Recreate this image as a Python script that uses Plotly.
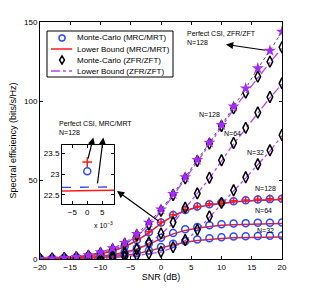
import plotly.graph_objects as go

# ---------------- data ----------------
snr = list(range(-20, 21, 2))

# MRC/MRT (imperfect CSI) Monte-Carlo and lower bound
mrc_mc_128 = [0.3, 0.5, 0.8, 1.3, 2.1, 3.3, 5.2, 8.0, 12.0, 17.0, 23.1, 27.8, 31.0, 33.2, 34.7, 35.8, 36.6, 37.2, 37.6, 37.9, 38.1]
mrc_lb_128 = [0.25, 0.45, 0.75, 1.2, 2.0, 3.1, 5.0, 7.7, 11.6, 16.6, 22.6, 27.3, 30.5, 32.7, 34.2, 35.3, 36.1, 36.7, 37.1, 37.4, 37.6]
mrc_mc_64 = [0.15, 0.25, 0.4, 0.7, 1.1, 1.8, 2.9, 4.5, 6.8, 9.8, 13.5, 16.5, 18.8, 20.3, 21.3, 22.0, 22.4, 22.7, 22.9, 23.0, 23.1]
mrc_lb_64 = [0.13, 0.22, 0.37, 0.65, 1.0, 1.7, 2.7, 4.2, 6.4, 9.3, 12.9, 15.9, 18.1, 19.6, 20.6, 21.3, 21.7, 22.0, 22.2, 22.3, 22.4]
mrc_mc_32 = [0.08, 0.13, 0.2, 0.35, 0.6, 0.95, 1.5, 2.4, 3.7, 5.4, 7.6, 9.6, 11.2, 12.4, 13.2, 13.8, 14.2, 14.4, 14.6, 14.7, 14.8]
mrc_lb_32 = [0.07, 0.12, 0.18, 0.32, 0.55, 0.9, 1.4, 2.2, 3.4, 5.0, 7.1, 9.0, 10.6, 11.7, 12.5, 13.0, 13.4, 13.6, 13.8, 13.9, 14.0]

# MRC/MRT perfect CSI, N=128
mrc_perf_mc_128 = [0.32, 0.53, 0.85, 1.4, 2.2, 3.5, 5.4, 8.3, 12.3, 17.3, 23.3, 28.0, 31.2, 33.4, 34.9, 36.0, 36.8, 37.4, 37.8, 38.1, 38.3]
mrc_perf_lb_128 = [0.26, 0.46, 0.77, 1.25, 2.05, 3.2, 5.1, 7.8, 11.7, 16.7, 22.7, 27.4, 30.6, 32.8, 34.3, 35.4, 36.2, 36.8, 37.2, 37.5, 37.7]

# ZFR/ZFT (imperfect CSI) Monte-Carlo and lower bound
zf_mc_128 = [0.15, 0.3, 0.6, 1.1, 2.0, 3.6, 6.0, 9.5, 15.0, 22.0, 30.5, 40.5, 51.0, 62.0, 73.0, 84.2, 95.3, 105.3, 115.4, 124.9, 134.0]
zf_lb_128 = [0.14, 0.28, 0.57, 1.05, 1.9, 3.5, 5.8, 9.2, 14.6, 21.5, 30.0, 40.0, 50.5, 61.5, 72.5, 83.6, 94.7, 104.8, 114.8, 124.3, 133.5]
zf_mc_64 = [0.04, 0.08, 0.15, 0.3, 0.6, 1.1, 2.0, 3.6, 6.3, 10.5, 16.2, 23.2, 32.5, 41.5, 51.4, 62.5, 73.4, 83.0, 92.7, 102.5, 111.2]
zf_lb_64 = [0.04, 0.07, 0.14, 0.28, 0.55, 1.0, 1.9, 3.4, 6.0, 10.1, 15.7, 22.7, 32.0, 41.0, 50.9, 62.0, 72.9, 82.5, 92.2, 102.0, 110.7]
zf_mc_32 = [0.02, 0.04, 0.07, 0.13, 0.25, 0.45, 0.8, 1.4, 2.3, 3.4, 4.6, 7.5, 12.0, 18.5, 27.0, 35.5, 43.5, 51.7, 60.0, 68.8, 78.5]
zf_lb_32 = [0.02, 0.035, 0.065, 0.12, 0.23, 0.42, 0.75, 1.3, 2.2, 3.2, 4.4, 7.2, 11.6, 18.1, 26.6, 35.0, 43.0, 51.2, 59.5, 68.3, 78.0]

# ZFR/ZFT perfect CSI, N=128
zf_perf_128 = [0.1, 0.3, 0.6, 1.3, 2.4, 4.3, 6.8, 10.2, 15.8, 23.0, 31.4, 41.1, 51.7, 62.7, 73.6, 84.8, 96.5, 108.0, 120.7, 131.8, 143.9]

# inset (zoom around SNR = 0 dB, N=128)
inset_snr = [-0.0085, 0.009]
inset_pt_snr = [0.0]
inset_perf_mc = [23.29]
inset_mc = [23.07]
inset_perf_lb = [22.68, 22.69]
inset_lb = [22.59, 22.61]

legend_labels = ["Monte-Carlo (MRC/MRT)", "Lower Bound (MRC/MRT)",
                 "Monte-Carlo (ZFR/ZFT)", "Lower Bound (ZFR/ZFT)"]

# ---------------- styles ----------------
OFF = 8                      # page body margin of the browser
W, H = 311 - OFF, 292 - OFF
PL, PR, PT, PB = 40, 282, 22, 259  # plot area in window pixels
BLUE = "#2B4BFF"
RED = "#FF1A1A"
PURPLE = "#A52AF5"
PURPLE_L = "#B545FF"
FONT = "Liberation Sans, Arial, sans-serif"


def xd(px):
    return -20 + (px - PL) / (PR - PL) * 40


def yd(py):
    return (PB - py) / (PB - PT) * 150


def xp(px):
    return (px - PL) / (PR - PL)


def yp(py):
    return (PB - py) / (PB - PT)


fig = go.Figure()

# lower bounds
for yv in (zf_lb_128, zf_lb_64, zf_lb_32):
    fig.add_trace(go.Scatter(x=snr, y=yv, mode="lines",
                             line=dict(color=PURPLE_L, width=1.3, dash="dashdot"),
                             showlegend=False, hoverinfo="skip"))
fig.add_trace(go.Scatter(x=snr, y=zf_perf_128, mode="lines",
                         line=dict(color="#555555", width=1, dash="dot"),
                         showlegend=False, hoverinfo="skip"))
fig.add_trace(go.Scatter(x=snr, y=mrc_perf_lb_128, mode="lines",
                         line=dict(color=BLUE, width=1.3, dash="dash"),
                         showlegend=False, hoverinfo="skip"))
for yv in (mrc_lb_128, mrc_lb_64, mrc_lb_32):
    fig.add_trace(go.Scatter(x=snr, y=yv, mode="lines",
                             line=dict(color=RED, width=1.5),
                             showlegend=False, hoverinfo="skip"))

# Monte-Carlo markers
for yv in (mrc_mc_128, mrc_mc_64, mrc_mc_32):
    fig.add_trace(go.Scatter(x=snr, y=yv, mode="markers",
                             marker=dict(symbol="circle-open", size=7, color=BLUE,
                                         line=dict(width=1.5, color=BLUE)),
                             showlegend=False, hoverinfo="skip"))
fig.add_trace(go.Scatter(x=snr, y=mrc_perf_mc_128, mode="markers",
                         marker=dict(symbol="cross-thin-open", size=6, color=RED,
                                     line=dict(width=1.5, color=RED)),
                         showlegend=False, hoverinfo="skip"))
for yv in (zf_mc_128, zf_mc_64, zf_mc_32):
    fig.add_trace(go.Scatter(x=snr, y=yv, mode="markers",
                             marker=dict(symbol="diamond-tall-open", size=8, color="black",
                                         line=dict(width=1.5, color="black")),
                             showlegend=False, hoverinfo="skip"))
fig.add_trace(go.Scatter(x=snr, y=zf_perf_128, mode="markers",
                         marker=dict(symbol="star", size=9, color=PURPLE,
                                     line=dict(width=0)),
                         showlegend=False, hoverinfo="skip"))

# inset traces
fig.add_trace(go.Scatter(x=inset_snr, y=inset_perf_lb, mode="lines", xaxis="x2", yaxis="y2",
                         line=dict(color=BLUE, width=1.3, dash="dash"),
                         showlegend=False, hoverinfo="skip"))
fig.add_trace(go.Scatter(x=inset_snr, y=inset_lb, mode="lines", xaxis="x2", yaxis="y2",
                         line=dict(color=RED, width=1.5),
                         showlegend=False, hoverinfo="skip"))
fig.add_trace(go.Scatter(x=inset_pt_snr, y=inset_perf_mc, mode="markers", xaxis="x2", yaxis="y2",
                         marker=dict(symbol="cross-thin-open", size=7, color=RED,
                                     line=dict(width=1.5, color=RED)),
                         showlegend=False, hoverinfo="skip"))
fig.add_trace(go.Scatter(x=inset_pt_snr, y=inset_mc, mode="markers", xaxis="x2", yaxis="y2",
                         marker=dict(symbol="circle-open", size=7, color=BLUE,
                                     line=dict(width=1.5, color=BLUE)),
                         showlegend=False, hoverinfo="skip"))

axis_common = dict(showline=True, linecolor="black", linewidth=1, mirror="ticks",
                   ticks="inside", ticklen=3, tickcolor="black", showgrid=False,
                   zeroline=False, automargin=False,
                   tickfont=dict(size=8, color="black", family=FONT))

fig.update_layout(
    width=W, height=H,
    margin=dict(l=PL - OFF, r=311 - PR, t=PT - OFF, b=292 - PB, autoexpand=False),
    paper_bgcolor="white", plot_bgcolor="white",
    font=dict(family=FONT, size=8, color="black"),
    showlegend=False,
    xaxis=dict(range=[-20, 20], tickvals=[-20, -15, -10, -5, 0, 5, 10, 15, 20],
               title=dict(text="SNR (dB)", font=dict(size=9), standoff=3), **axis_common),
    yaxis=dict(range=[0, 150], tickvals=[0, 50, 100, 150],
               title=dict(text="Spectral efficiency (bits/s/Hz)", font=dict(size=9), standoff=5),
               **axis_common),
    xaxis2=dict(domain=[xp(62), xp(114)], anchor="y2", range=inset_snr,
                tickvals=[-0.005, 0, 0.005], ticktext=["\u22125", "0", "5"], **axis_common),
    yaxis2=dict(domain=[yp(204), yp(145)], anchor="x2", range=[22.28, 23.7],
                tickvals=[22.5, 23, 23.5], ticktext=["22.5", "23", "23.5"], **axis_common),
)

ann = []
# arrows (head at first point, tail at second point), in main data coordinates
arrows = [((226, 44.5), (267, 50.5)),
          ((117, 191), (160, 222)),
          ((93.3, 137.5), (87.7, 160)),
          ((103.3, 137.5), (97.3, 185))]
for (hx, hy), (tx, ty) in arrows:
    ann.append(dict(x=xd(hx), y=yd(hy), ax=xd(tx), ay=yd(ty), xref="x", yref="y",
                    axref="x", ayref="y", text="", showarrow=True, arrowhead=2,
                    arrowsize=1.2, arrowwidth=1.2, arrowcolor="black"))

texts = [("Perfect CSI, ZFR/ZFT<br>N=128", 185, 38),
         ("Perfect CSI, MRC/MRT<br>N=128", 57, 128),
         ("N=128", 197, 114), ("N=64", 222, 133), ("N=32", 245, 152),
         ("N=128", 253, 188), ("N=64", 253, 210), ("N=32", 255, 230)]
for t, px, py in texts:
    ann.append(dict(x=xd(px), y=yd(py), xref="x", yref="y", text=t, showarrow=False,
                    xanchor="left", yanchor="middle", align="left",
                    font=dict(size=7, color="black", family=FONT), bgcolor="rgba(255,255,255,0)"))

ann.append(dict(x=xp(92), y=yp(225), xref="paper", yref="paper", text="x 10<sup>\u22123</sup>",
                showarrow=False, xanchor="left", yanchor="middle",
                font=dict(size=7, color="black", family=FONT)))

# manual legend
shapes = [dict(type="rect", xref="paper", yref="paper", x0=xp(47), x1=xp(173), y0=yp(77), y1=yp(31),
               line=dict(color="black", width=1), fillcolor="white", layer="above")]
rows = [38, 49, 60, 71]
for lab, ry in zip(legend_labels, rows):
    ann.append(dict(x=xp(75), y=yp(ry), xref="paper", yref="paper", text=lab, showarrow=False,
                    xanchor="left", yanchor="middle", font=dict(size=8, color="black", family=FONT)))
shapes.append(dict(type="circle", xref="paper", yref="paper", xsizemode="pixel", ysizemode="pixel",
                   xanchor=xp(62), yanchor=yp(38), x0=-3, x1=3, y0=-3, y1=3,
                   line=dict(color=BLUE, width=1.5), layer="above"))
shapes.append(dict(type="line", xref="paper", yref="paper", x0=xp(51), x1=xp(72), y0=yp(49), y1=yp(49),
                   line=dict(color=RED, width=1.5), layer="above"))
shapes.append(dict(type="path", xref="paper", yref="paper", xsizemode="pixel", ysizemode="pixel",
                   xanchor=xp(62), yanchor=yp(60), path="M 0,4 L 2.5,0 L 0,-4 L -2.5,0 Z",
                   line=dict(color="black", width=1.5), layer="above"))
shapes.append(dict(type="line", xref="paper", yref="paper", x0=xp(51), x1=xp(72), y0=yp(71), y1=yp(71),
                   line=dict(color=PURPLE_L, width=1.3, dash="dashdot"), layer="above"))

fig.update_layout(annotations=ann, shapes=shapes)
fig.write_html("out.html")
